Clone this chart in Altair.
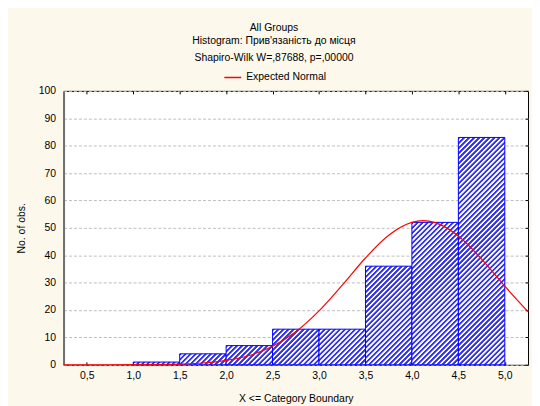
import math
import altair as alt
import pandas as pd

# ---- data ----
bin_start = [1.0, 1.5, 2.0, 2.5, 3.0, 3.5, 4.0, 4.5]
bin_end = [1.5, 2.0, 2.5, 3.0, 3.5, 4.0, 4.5, 5.0]
counts = [1, 4, 7, 13, 13, 36, 52, 83]

curve_x = [0.25, 0.5, 0.75, 1.0, 1.25, 1.5, 1.75, 2.0, 2.25, 2.5, 2.75, 3.0,
           3.25, 3.5, 3.75, 4.0, 4.12, 4.25, 4.5, 4.75, 5.0, 5.25]
curve_y = [0.0, 0.0, 0.01, 0.03, 0.08, 0.25, 0.65, 1.6, 3.4, 6.8, 12.1, 19.7,
           29.1, 39.0, 47.3, 52.0, 52.6, 51.9, 47.0, 38.6, 28.7, 19.4]

x_ticks = [0.5, 1.0, 1.5, 2.0, 2.5, 3.0, 3.5, 4.0, 4.5, 5.0]
y_ticks = [0, 10, 20, 30, 40, 50, 60, 70, 80, 90, 100]

title_lines = ["All Groups", "Histogram: Прив'язаність до місця"]
subtitle = "Shapiro-Wilk W=,87688, p=,00000"
legend_label = "Expected Normal"
x_title = "X <= Category Boundary"
y_title = "No. of obs."

# ---- layout ----
W, H = 468, 276
X_DOM = [0.25, 5.25]
Y_DOM = [0, 100]
FONT = "Liberation Sans"
FS = 10.5
BLUE = "#3434F4"

bars_df = pd.DataFrame({"i": list(range(len(counts))), "start": bin_start,
                        "end": bin_end, "count": counts})
curve_df = pd.DataFrame({"x": curve_x, "y": curve_y, "s": [legend_label] * len(curve_x)})

xs = alt.Scale(domain=X_DOM, nice=False, zero=False)
ys = alt.Scale(domain=Y_DOM, nice=False)


def hatch(w, h, period=3.6):
    """Diagonal '/' stripes as a linear gradient in bounding-box units."""
    L = (w + h) / math.sqrt(2)
    s = (w + h) / (w * w + h * h)
    stops = []
    pattern = [(0.0, BLUE), (0.38, BLUE), (0.52, "#FFFFFF"), (0.86, "#FFFFFF")]
    k = 0
    while k * period <= L:
        for frac, col in pattern:
            pos = (k + frac) * period / L
            if pos <= 1.0:
                stops.append(alt.GradientStop(offset=round(pos, 5), color=col))
        k += 1
    return alt.LinearGradient(gradient="linear", stops=stops,
                              x1=0, y1=0, x2=round(w * s, 5), y2=round(h * s, 5))


px_per_x = W / (X_DOM[1] - X_DOM[0])
px_per_y = H / (Y_DOM[1] - Y_DOM[0])

label_expr = "replace(format(datum.value, '.1f'), '.', ',')"

ax_x_top_ticks = alt.Axis(orient="bottom", offset=-H, values=x_ticks, labels=False,
                          domain=False, grid=False, ticks=True, tickSize=3,
                          tickColor="black", title=None)
ax_x_bottom_ticks = alt.Axis(orient="top", offset=-H, values=x_ticks, labels=False,
                             domain=False, grid=False, ticks=True, tickSize=3,
                             tickColor="black", title=None)
ax_y_right_ticks = alt.Axis(orient="left", offset=-W, values=y_ticks, labels=False,
                            domain=False, grid=False, ticks=True, tickSize=3,
                            tickColor="black", title=None)

layers = []
for i, c in enumerate(counts):
    w = (bin_end[i] - bin_start[i]) * px_per_x
    h = c * px_per_y
    if i == 0:
        xa, ya = ax_x_bottom_ticks, ax_y_right_ticks
    elif i == 1:
        xa, ya = ax_x_top_ticks, None
    else:
        xa, ya = None, None
    layer = alt.Chart(bars_df).transform_filter(alt.datum.i == i).mark_bar(
        fill=hatch(w, h), stroke="#0000FF", strokeWidth=1
    ).encode(
        x=alt.X("start:Q", scale=xs, axis=xa),
        x2="end:Q",
        y=alt.Y("count:Q", scale=ys, axis=ya),
        y2=alt.datum(0),
    )
    layers.append(layer)

line = alt.Chart(curve_df).mark_line(strokeWidth=1.2, interpolate="monotone").encode(
    x=alt.X("x:Q", scale=xs, axis=alt.Axis(
        orient="bottom", values=x_ticks, labelExpr=label_expr, ticks=False,
        domain=False, grid=False, title=x_title, labelPadding=6, titlePadding=12,
        labelFontSize=FS, titleFontSize=FS, titleFontWeight="normal",
        labelColor="black", titleColor="black", labelFont=FONT, titleFont=FONT)),
    y=alt.Y("y:Q", scale=ys, axis=alt.Axis(
        orient="left", values=y_ticks, ticks=False, grid=True, gridDash=[3, 2],
        gridColor="#BDBDBD", gridWidth=1, domain=True, domainColor="#707070",
        domainWidth=2, title=y_title, labelPadding=8, titlePadding=12,
        labelFontSize=FS, titleFontSize=FS, titleFontWeight="normal",
        labelColor="black", titleColor="black", labelFont=FONT, titleFont=FONT)),
    color=alt.Color("s:N", scale=alt.Scale(domain=[legend_label], range=["#FF0000"]),
                    legend=alt.Legend(orient="none", legendX=161, legendY=-23, title=None,
                                      symbolType="stroke", symbolSize=289,
                                      symbolStrokeWidth=1.5, labelFontSize=FS,
                                      labelFont=FONT, labelColor="black",
                                      labelOffset=4, padding=0)),
)

layers.append(line)

chart = alt.layer(*layers).resolve_axis(x="independent", y="independent").properties(
    width=W, height=H,
    autosize=alt.AutoSizeParams(type="none"),
    padding={"left": 56, "top": 82, "right": 4, "bottom": 40},
    background="#FDF8EC",
    title=alt.TitleParams(text=title_lines, subtitle=subtitle, anchor="middle",
                          font=FONT, fontSize=FS, fontWeight="normal", color="black",
                          subtitleFont=FONT, subtitleFontSize=FS, subtitleColor="black",
                          lineHeight=13, subtitlePadding=6, offset=5, dx=-22),
).configure_view(fill="white", stroke="black", strokeWidth=1)

chart.save("out.html", embed_options={"renderer": "svg", "actions": False})
